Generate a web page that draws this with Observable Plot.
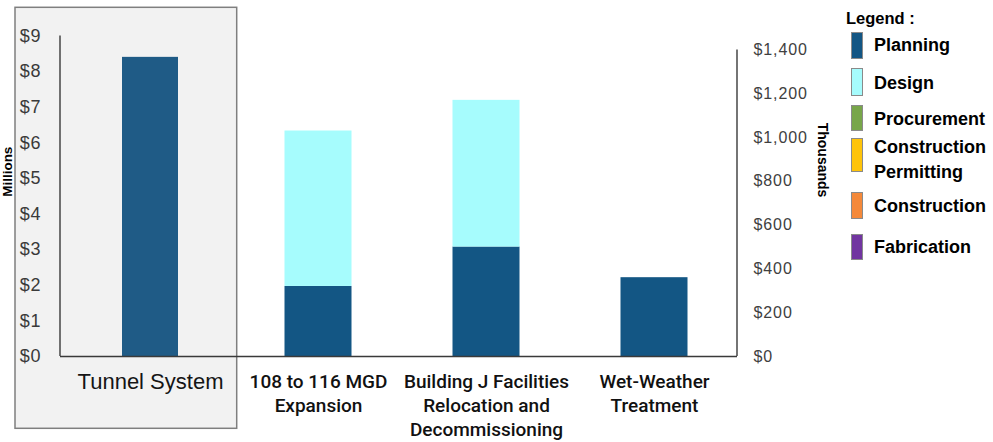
<!DOCTYPE html>
<html>
<head>
<meta charset="utf-8">
<script src="https://cdn.jsdelivr.net/npm/d3@7"></script>
<script src="https://cdn.jsdelivr.net/npm/@observablehq/plot@0.6"></script>
<style>
  html, body { margin: 0; padding: 0; background: #fff; }
  #wrap { position: relative; width: 993px; height: 442px; overflow: hidden; font-family: "Liberation Sans", Arial, sans-serif; }
  #chart { position: absolute; left: 0; top: 0; }
  #legend { position: absolute; left: 846px; top: 6px; color: #000; }
  #legend .title { font-weight: bold; font-size: 16.5px; margin-bottom: 0; height: 24px; line-height: 24px; }
  .item { position: absolute; left: 5px; width: 150px; }
  .sw { position: absolute; left: 0; width: 10px; border: 1px solid #8a8a8a; }
  .lbl { position: absolute; left: 23px; font-weight: bold; font-size: 18px; line-height: 25px; white-space: nowrap; }
</style>
</head>
<body>
<div id="wrap">
  <div id="chart"></div>
  <div id="legend"></div>
</div>
<script>
// ---- data ----
const xLabels = ["Tunnel System", "108 to 116 MGD\nExpansion", "Building J Facilities\nRelocation and\nDecommissioning", "Wet-Weather\nTreatment"];
const phases = ["Planning", "Design", "Procurement", "Construction Permitting", "Construction", "Fabrication"];
const phaseColors = ["#135684", "#a6fcfd", "#78a64a", "#ffc40a", "#f4893a", "#7135a0"];

// left axis (millions) project
const tunnelPlanningMillions = [8.4];
// right axis (thousands) projects
const rightProjects = xLabels.slice(1);
const planningThousands = [320, 500, 360];
const designThousands = [710, 670, 0];

const leftTicks = [0, 1, 2, 3, 4, 5, 6, 7, 8, 9];
const rightTicks = [0, 200, 400, 600, 800, 1000, 1200, 1400];

// left axis top ($9M) is aligned with this value on the right (thousands) axis
const LEFT_MAX_IN_RIGHT_UNITS = 1464;
const LEFT_FACTOR = LEFT_MAX_IN_RIGHT_UNITS / 9;

// ---- tables ----
const tunnelData = [{label: xLabels[0], value: tunnelPlanningMillions[0] * LEFT_FACTOR}];
const rightData = [];
rightProjects.forEach((p, i) => {
  rightData.push({label: p, phase: "Planning", value: planningThousands[i]});
  rightData.push({label: p, phase: "Design", value: designThousands[i]});
});

const W = 993, H = 442;
const mTop = 49.5, mBottom = 86, mLeft = 60, mRight = 256;

const plot = Plot.plot({
  width: W, height: H,
  marginTop: mTop, marginBottom: mBottom, marginLeft: mLeft, marginRight: mRight,
  style: {background: "transparent", fontFamily: "'Liberation Sans', Arial, sans-serif", overflow: "visible"},
  x: {domain: xLabels, range: [65, 738], padding: 0, axis: null},
  y: {domain: [0, 1400], axis: null},
  color: {domain: phases, range: phaseColors},
  marks: [
    Plot.barY(tunnelData, {x: "label", y: "value", fill: "#1f5b86", insetLeft: 56, insetRight: 56}),
    Plot.barY(rightData, Plot.stackY({x: "label", y: "value", fill: "phase", order: phases, insetLeft: 50.5, insetRight: 50.5})),
    Plot.ruleY([0], {stroke: "#3a3a3a", strokeWidth: 1.4}),
    Plot.axisY(leftTicks.map(m => m * LEFT_FACTOR), {anchor: "left", tickSize: 0, tickPadding: 19, fontSize: 18, color: "#3a3a3a", label: null,
      tickFormat: d => "$" + Math.round(d / LEFT_FACTOR)}),
    Plot.axisY(rightTicks, {anchor: "right", tickSize: 0, tickPadding: 16, fontSize: 16, color: "#404040", label: null,
      tickFormat: d3.format("$,")}),
    Plot.axisX([xLabels[0]], {anchor: "bottom", tickSize: 0, tickPadding: 17, fontSize: 22, fontWeight: 500, color: "#151515", label: null}),
    Plot.axisX(rightProjects, {anchor: "bottom", tickSize: 0, tickPadding: 15, fontSize: 19, fontWeight: 500, color: "#111", label: null, lineHeight: 1.25,
      fontFamily: "Roboto, 'Liberation Sans', sans-serif"})
  ]
});

const svg = d3.select(plot);
const y = plot.scale("y");
const y0 = y.apply(0);

svg.selectAll('g[aria-label="y-axis tick label"] text').style("letter-spacing", "0.9px");

// shaded box around the Tunnel System (left-axis) panel
svg.insert("rect", ":first-child")
  .attr("x", 15).attr("y", 7.3).attr("width", 221.7).attr("height", 421)
  .attr("fill", "#f2f2f2").attr("stroke", "#7f7f7f").attr("stroke-width", 1.5);

// axis lines
svg.append("line").attr("x1", mLeft).attr("x2", mLeft)
  .attr("y1", y.apply(9 * LEFT_FACTOR)).attr("y2", y0).attr("stroke", "#3a3a3a").attr("stroke-width", 1.4);
svg.append("line").attr("x1", W - mRight).attr("x2", W - mRight)
  .attr("y1", y.apply(1400)).attr("y2", y0).attr("stroke", "#3a3a3a").attr("stroke-width", 1.4);

// axis unit labels
svg.append("text").text("Millions")
  .attr("transform", `translate(12,${(y.apply(9 * LEFT_FACTOR) + y0) / 2 - 24}) rotate(-90)`)
  .attr("text-anchor", "middle").attr("font-weight", "bold").attr("font-size", 13.5).attr("fill", "#000");
svg.append("text").text("Thousands")
  .attr("transform", `translate(818,160) rotate(90)`)
  .attr("text-anchor", "middle").attr("font-weight", "bold").attr("font-size", 14).attr("fill", "#000");

document.getElementById("chart").appendChild(plot);

// legend
const legend = document.getElementById("legend");
legend.innerHTML = '<div class="title">Legend :</div>';
const itemTops = [26, 62, 99, 132, 186, 228];
const swH = [27, 28, 26, 34, 27, 26];
const lblOffsets = [1, 3, 2, -3, 2, 1];
phases.forEach((p, i) => {
  const it = document.createElement("div");
  it.className = "item";
  it.style.top = itemTops[i] + "px";
  const sw = document.createElement("div");
  sw.className = "sw";
  sw.style.top = "0px";
  sw.style.height = (swH[i] - 2) + "px";
  sw.style.background = phaseColors[i];
  const lb = document.createElement("div");
  lb.className = "lbl";
  lb.style.top = lblOffsets[i] + "px";
  lb.innerHTML = p === "Construction Permitting" ? "Construction<br>Permitting" : p;
  it.appendChild(sw); it.appendChild(lb);
  legend.appendChild(it);
});
</script>
</body>
</html>
